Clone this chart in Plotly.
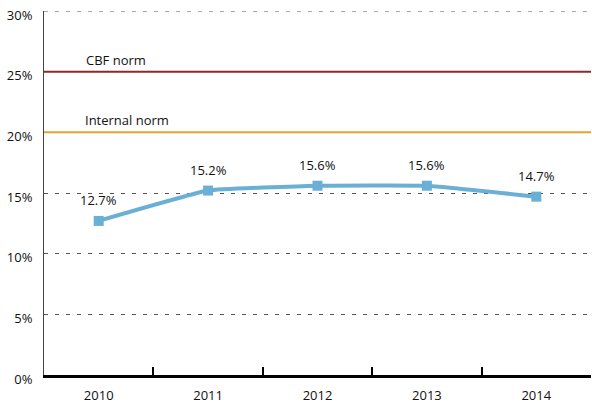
import plotly.graph_objects as go

years = ["2010", "2011", "2012", "2013", "2014"]
ratio = [12.7, 15.2, 15.6, 15.6, 14.7]
labels = ["12.7%", "15.2%", "15.6%", "15.6%", "14.7%"]
cbf_norm = 25
internal_norm = 20
y_ticks = [0, 5, 10, 15, 20, 25, 30]
y_ticklabels = ["0%", "5%", "10%", "15%", "20%", "25%", "30%"]

FONT = "Open Sans, Noto Sans, sans-serif"

fig = go.Figure()
fig.add_trace(go.Scatter(
    x=years, y=ratio, mode="lines+markers",
    line=dict(color="#6aafd6", width=4, shape="spline", smoothing=0.3),
    marker=dict(symbol="square", size=10, color="#6aafd6"),
    cliponaxis=False, showlegend=False,
))
for i, (v, t) in enumerate(zip(ratio, labels)):
    fig.add_annotation(x=i, y=v, text=t, showarrow=False, yanchor="bottom", yshift=10,
                       font=dict(size=13, color="#111", family=FONT))

# top gridline (at the range edge, which plotly skips)
fig.add_shape(type="line", xref="paper", yref="y", x0=0, x1=1, y0=y_ticks[-1], y1=y_ticks[-1],
              line=dict(color="#555", width=1, dash="4px,7px"))
fig.add_shape(type="line", xref="paper", yref="y", x0=0, x1=1, y0=cbf_norm, y1=cbf_norm,
              line=dict(color="#8b2a2a", width=2))
fig.add_shape(type="line", xref="paper", yref="y", x0=0, x1=1, y0=internal_norm, y1=internal_norm,
              line=dict(color="#e8a030", width=2))
fig.add_annotation(x=0.131, xref="paper", xanchor="center", y=cbf_norm, yref="y", text="CBF norm",
                   showarrow=False, yanchor="bottom", yshift=1,
                   font=dict(size=13, color="#111", family=FONT))
fig.add_annotation(x=0.151, xref="paper", xanchor="center", y=internal_norm, yref="y", text="Internal norm",
                   showarrow=False, yanchor="bottom", yshift=1,
                   font=dict(size=13, color="#111", family=FONT))

fig.update_layout(
    width=592, height=412,
    margin=dict(l=44, r=1, t=11, b=37),
    paper_bgcolor="white", plot_bgcolor="white",
    font=dict(family=FONT, size=13, color="#111"),
    xaxis=dict(
        type="category", range=[-0.5, 4.5], automargin=False,
        showline=True, linecolor="#000", linewidth=2.5,
        ticks="inside", tickson="boundaries", ticklen=8, tickwidth=2, tickcolor="#000",
        showgrid=False, tickfont=dict(size=13, family=FONT), ticklabelstandoff=7,
    ),
    yaxis=dict(
        range=[0, 30], tickvals=y_ticks, ticktext=y_ticklabels, automargin=False,
        showline=True, linecolor="#444", linewidth=1,
        showgrid=True, gridcolor="#555", gridwidth=1, griddash="4px,7px",
        zeroline=False, ticks="", ticklabelstandoff=8, ticklabelshift=4,
        tickfont=dict(size=13, family=FONT),
    ),
)

fig.write_html("out.html", config={"displayModeBar": False},
               post_script="document.body.style.margin='0';document.body.style.overflow='hidden';")
